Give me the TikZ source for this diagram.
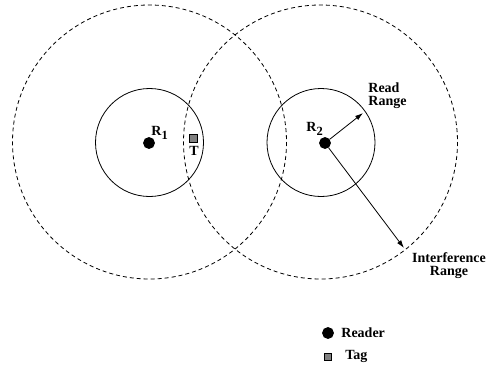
\documentclass[tikz,border=0pt]{standalone}
\usepackage{fontspec}
\setmainfont{Liberation Serif}
\usepackage{tikz}
\usetikzlibrary{arrows.meta}
\tikzstyle{readerdot}=[circle,draw=black,fill=black,
                       inner sep=0pt,minimum size=11pt]
\tikzstyle{tagbox}=[rectangle,draw=black,fill=gray,
                    inner sep=0pt,minimum size=8.5pt]
\tikzstyle{lbl}=[inner sep=0pt,font=\fontsize{14}{13}\selectfont\bfseries]
\newcommand{\lowsub}[1]{\raisebox{-4pt}{\fontsize{12.5}{12}\selectfont #1}}

\begin{document}
\begin{tikzpicture}[x=1pt,y=-1pt,line width=0.8pt]
    \newcommand{\readrad}{54}
    \newcommand{\intfrad}{137}
    \useasboundingbox (0,0) rectangle (487,369);
    % ranges of the two readers
    \draw (149.5,142.5) circle (\readrad);
    \draw (321,142.5) circle (\readrad);
    \draw[dash pattern=on 4pt off 3pt] (149.5,142) circle (\intfrad);
    \draw[dash pattern=on 4pt off 3pt] (320.5,142) circle (\intfrad);
    % readers and tag
    \node (r1) at (149,143) [readerdot]{};
    \node (r2) at (325,143) [readerdot]{};
    \node (t)  at (193.5,138.5) [tagbox]{};
    \node [lbl,anchor=base west] at (151,135) {R\lowsub{1}};
    \node [lbl,anchor=base west] at (306,131) {R\lowsub{2}};
    \node [lbl,anchor=base] at (194,155) {T};
    % range arrows
    \coordinate (rd) at (363,113);
    \coordinate (intf) at (404,248);
    \draw[-{Latex[length=8pt,width=5pt]}] (r2) -- (rd);
    \draw[-{Latex[length=8pt,width=5pt]}] (r2) -- (intf);
    \node [lbl,align=left,anchor=west] at (368,96) {Read\\Range};
    \node [lbl,align=center] at (449,265.5) {Interference\\Range};
    % legend
    \node (lr) at (328,333) [readerdot]{};
    \node (lt) at (328,357) [tagbox,minimum size=7pt]{};
    \node [lbl,anchor=west] at (341,333) {Reader};
    \node [lbl,anchor=west] at (345,356) {Tag};
\end{tikzpicture}
\end{document}
